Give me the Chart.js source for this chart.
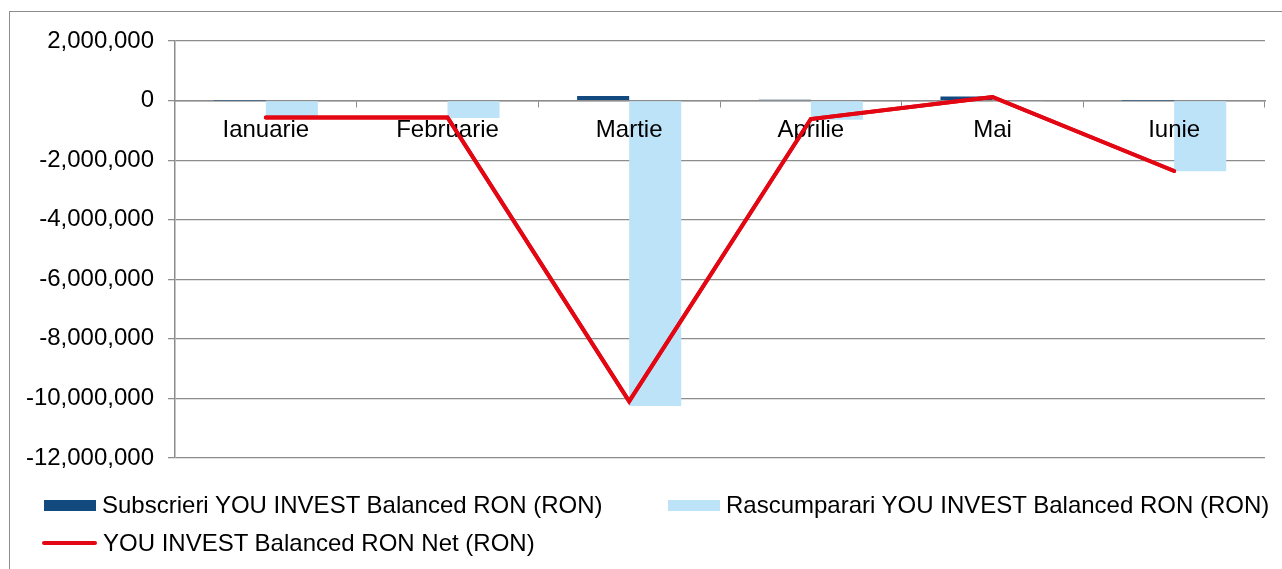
<!DOCTYPE html>
<html>
<head>
<meta charset="utf-8">
<script src="https://cdn.jsdelivr.net/npm/chart.js@4.4.0/dist/chart.umd.min.js"></script>
<style>
  body { margin: 0; background: #fff; }
  #wrap { position: relative; width: 1282px; height: 569px; overflow: hidden; font-family: "Liberation Sans", Arial, sans-serif; }
  #frame { position: absolute; left: 9px; top: 11px; width: 1300px; height: 600px; border: 1.5px solid #8c8c8c; box-sizing: border-box; }
  #myChart { position: absolute; left: 0; top: 0; }
  .leg { position: absolute; font-size: 24px; color: #000; line-height: 28px; white-space: nowrap; }
  .sw { position: absolute; }
</style>
</head>
<body>
<div id="wrap">
  <div id="frame"></div>
  <canvas id="myChart" width="1282" height="569"></canvas>
  <div id="legend"></div>
</div>
<script>
// luni
var categories = ['Ianuarie', 'Februarie', 'Martie', 'Aprilie', 'Mai', 'Iunie'];

// valori (RON)
var subscrieri = [5000, 20000, 150000, 25000, 135000, 5000];
var rascumparari = [-570000, -585000, -10250000, -645000, -15000, -2370000];
var net = [-565000, -565000, -10100000, -620000, 120000, -2365000];

var seriesNames = [
    'Subscrieri YOU INVEST Balanced RON (RON)',
    'Rascumparari YOU INVEST Balanced RON (RON)',
    'YOU INVEST Balanced RON Net (RON)'
];

// axa y
var yMin = -12000000;
var yMax = 2000000;
var yStep = 2000000;

var gridColor = '#8c8c8c';
Chart.defaults.font.family = '"Liberation Sans", Arial, sans-serif';
Chart.defaults.font.size = 24;
Chart.defaults.color = '#000';

// linia neta se deseneaza peste etichetele lunilor
var lineOnTop = {
    id: 'lineOnTop',
    afterDraw: function (chart) {
        var meta = chart.getDatasetMeta(2);
        var area = chart.chartArea;
        chart.ctx.save();
        chart.ctx.beginPath();
        chart.ctx.rect(area.left, area.top - 10, area.right - area.left, area.bottom - area.top + 20);
        chart.ctx.clip();
        meta.controller.draw();
        chart.ctx.restore();
    }
};

new Chart('myChart', {
    type: 'bar',
    data: {
        labels: categories,
        datasets: [{
            label: seriesNames[0],
            data: subscrieri,
            backgroundColor: '#124a80',
            categoryPercentage: 0.573,
            barPercentage: 1,
            order: 1
        }, {
            label: seriesNames[1],
            data: rascumparari,
            backgroundColor: '#bde3f8',
            categoryPercentage: 0.573,
            barPercentage: 1,
            order: 1
        }, {
            type: 'line',
            label: seriesNames[2],
            data: net,
            borderColor: '#e30613',
            borderWidth: 4,
            pointRadius: 0,
            borderJoinStyle: 'miter',
            borderCapStyle: 'round',
            fill: false,
            order: 0
        }]
    },
    options: {
        responsive: false,
        animation: false,
        layout: { padding: { top: 41, right: 17, bottom: 111, left: 0 } },
        plugins: {
            legend: { display: false },
            tooltip: { enabled: false }
        },
        scales: {
            x: {
                position: { y: 0 },
                grid: { drawOnChartArea: false, drawTicks: true, tickLength: 6, color: gridColor, lineWidth: 1 },
                border: { display: true, color: gridColor, width: 1.5 },
                ticks: { padding: 9, maxRotation: 0, autoSkip: false, z: 1 }
            },
            y: {
                min: yMin,
                max: yMax,
                grid: { color: gridColor, lineWidth: 1.25, tickLength: 7 },
                border: { display: true, color: gridColor, width: 1.5 },
                ticks: {
                    stepSize: yStep,
                    padding: 14,
                    callback: function (v) { return v.toLocaleString('en-US'); }
                },
                afterFit: function (s) { s.width = 175; }
            }
        }
    },
    plugins: [lineOnTop]
});

// LEGENDA
var legendItems = [
    { name: seriesNames[0], kind: 'box', color: '#124a80', x: 44, y: 505, w: 52 },
    { name: seriesNames[1], kind: 'box', color: '#bde3f8', x: 668, y: 505, w: 52 },
    { name: seriesNames[2], kind: 'line', color: '#e30613', x: 42, y: 543, w: 55 }
];
var html = '';
legendItems.forEach(function (it) {
    if (it.kind === 'box') {
        html += '<div class="sw" style="left:' + it.x + 'px;top:' + (it.y - 5) + 'px;width:' + it.w + 'px;height:11px;background:' + it.color + '"></div>';
    } else {
        html += '<div class="sw" style="left:' + it.x + 'px;top:' + (it.y - 2) + 'px;width:' + it.w + 'px;height:4px;border-radius:2px;background:' + it.color + '"></div>';
    }
    html += '<div class="leg" style="left:' + (it.x + it.w + 6) + 'px;top:' + (it.y - 14) + 'px">' + it.name + '</div>';
});
document.getElementById('legend').innerHTML = html;
</script>
</body>
</html>
